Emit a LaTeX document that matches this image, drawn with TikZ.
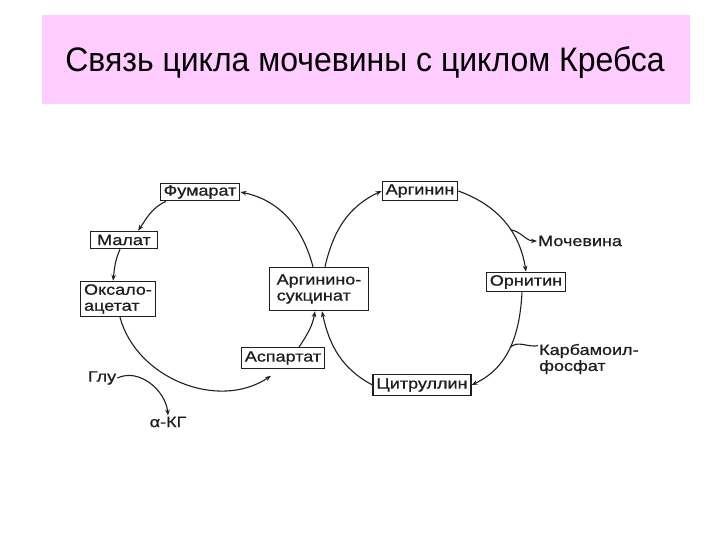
\documentclass[tikz,border=0pt]{standalone}
\usepackage{fontspec}
\setmainfont{Liberation Sans}
\newfontfamily\lblfont[FakeStretch=1.2,FakeBold=0.8]{Liberation Sans}
\newfontfamily\ttlfont[FakeStretch=0.94]{Liberation Sans}
\usetikzlibrary{arrows.meta}
\definecolor{titlepink}{RGB}{255,204,255}
\definecolor{ink}{RGB}{30,30,30}
\begin{document}
\begin{tikzpicture}[x=1pt,y=1pt,>={Stealth[length=6pt,width=4.5pt]},
  met/.style={draw=ink,line width=1.1pt,fill=white,inner xsep=3.5pt,inner ysep=3.5pt,
    font=\lblfont\fontsize{15}{16}\selectfont,text=ink,align=left},
  lbl/.style={inner sep=1pt,font=\lblfont\fontsize{15}{16}\selectfont,text=ink,align=left},
  flow/.style={draw=ink,line width=1.1pt}]
 \useasboundingbox (0,0) rectangle (720,540);
 \fill[titlepink] (42,436) rectangle (690,525);
 \node (title) at (365,477) {\ttlfont\fontsize{34}{36}\selectfont Связь цикла мочевины с циклом Кребса};
 % urea cycle and Krebs cycle
 \node[met,inner ysep=2pt] (fum) at (200,348) {Фумарат};
 \node[met,inner xsep=7pt] (mal) at (124,300) {Малат};
 \node[met,inner ysep=3pt] (oxa) at (118,241) {Оксало-\\ацетат};
 \node[met,inner xsep=7pt,inner ysep=7pt] (ars) at (319,251) {Аргинино-\\сукцинат};
 \node[met] (asp) at (283,182) {Аспартат};
 \node[met,inner ysep=2.5pt] (arg) at (420,349) {Аргинин};
 \node[met,inner ysep=3pt] (orn) at (526,258) {Орнитин};
 \node[met] (cit) at (422,155) {Цитруллин};
 \node[lbl,anchor=west] (urea) at (537,299) {Мочевина};
 \node[lbl,anchor=west] (carb) at (538,181) {Карбамоил-\\фосфат};
 \node[lbl] (glu) at (102,162) {Глу};
 \node[lbl] (akg) at (168,118) {α-КГ};
 \draw[flow,->] ([xshift=-6pt]ars.north) to[out=105,in=-12] (fum.east);
 \draw[flow,->] ([xshift=-34pt]fum.south) to[out=205,in=55] ([xshift=14pt]mal.north);
 \draw[flow,->] ([xshift=-4pt]mal.south) to[out=246,in=83] ([xshift=-5pt]oxa.north);
 \draw[flow,->] ([xshift=2pt]oxa.south) to[out=285,in=214] ([xshift=-12pt,yshift=-7pt]asp.south);
 \draw[flow,->] ([xshift=16pt]asp.north) to[out=57,in=260] ([xshift=-4pt]ars.south);
 \draw[flow,->] ([xshift=6pt]ars.north) to[out=77,in=205] (arg.west);
 \draw[flow,->] (arg.east) to[out=-20,in=99] coordinate[pos=0.6] (ureaout) (orn.north);
 \draw[flow,->] ([xshift=-4pt]orn.south) to[out=-93,in=25] coordinate[pos=0.5] (carbin) (cit.east);
 \draw[flow,->] (cit.west) to[out=152,in=282] ([xshift=3pt]ars.south);
 \draw[flow,->] (ureaout) to[out=-10,in=180] (urea.west);
 \draw[flow] ([yshift=-3pt]carb.north west) to[out=190,in=45] (carbin);
 \draw[flow,->] (glu.east) to[out=25,in=95] (akg.north);
\end{tikzpicture}
\end{document}
